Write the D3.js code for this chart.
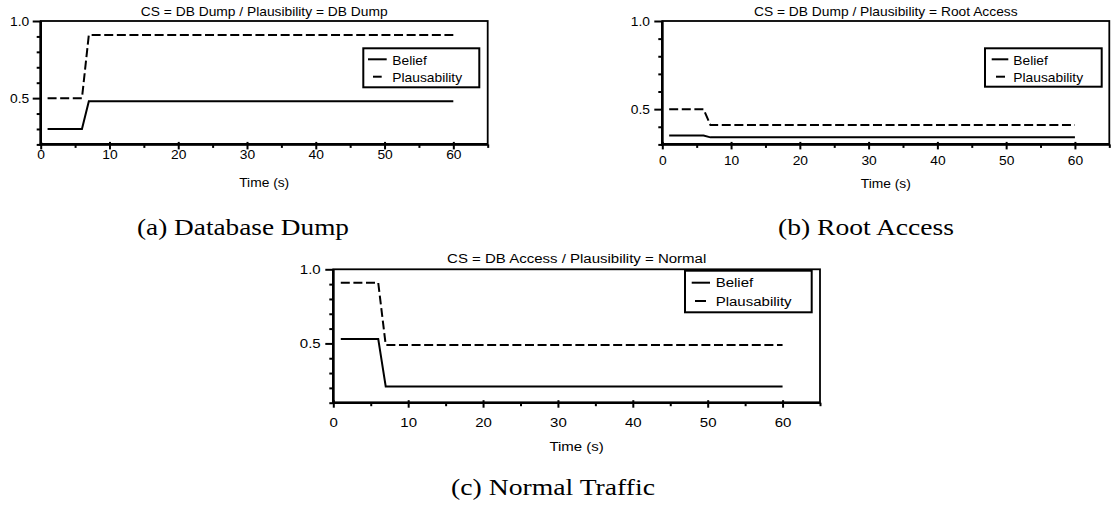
<!DOCTYPE html>
<html>
<head>
<meta charset="utf-8">
<script src="https://cdn.jsdelivr.net/npm/d3@7"></script>
<style>
  html, body { margin: 0; padding: 0; background: #fff; }
  svg { display: block; }
  .sans { font-family: "Liberation Sans", Arial, Helvetica, sans-serif; font-size: 12px; fill: #000; }
  .serif { font-family: "Liberation Serif", "Times New Roman", serif; font-size: 24px; fill: #000; }
</style>
</head>
<body>
<svg id="chart" width="1117" height="506"></svg>
<script>
// ---------------- DATA ----------------
const timeA = [1, 6, 7, 60];
const beliefA = [0.30, 0.30, 0.48, 0.48];
const plausA = [0.50, 0.50, 0.91, 0.91];

const timeB = [1, 6, 7, 60];
const beliefB = [0.35, 0.35, 0.34, 0.34];
const plausB = [0.50, 0.50, 0.41, 0.41];

const timeC = [1, 6, 7, 60];
const beliefC = [0.53, 0.53, 0.21, 0.21];
const plausC = [0.91, 0.91, 0.49, 0.49];

const titles = [
  "CS = DB Dump / Plausibility = DB Dump",
  "CS = DB Dump / Plausibility = Root Access",
  "CS = DB Access / Plausibility = Normal"
];
const captions = ["(a) Database Dump", "(b) Root Access", "(c) Normal Traffic"];
const seriesNames = ["Belief", "Plausability"];
const xLabel = "Time (s)";
const xMajorTicks = [0, 10, 20, 30, 40, 50, 60];
const xMinorTicks = [5, 15, 25, 35, 45, 55, 65];
const yMajorTicks = [0.5, 1.0];
const yMajorLabels = ["0.5", "1.0"];
const yMinorTicksA = [0.2, 0.3, 0.4, 0.6, 0.7, 0.8, 0.9];
const yMinorTicksB = [0.3, 0.4, 0.6, 0.7, 0.8, 0.9];
const yMinorTicksC = [0.1, 0.2, 0.3, 0.4, 0.6, 0.7, 0.8, 0.9];

// ---------------- LAYOUT ----------------
const panels = [
  { t: timeA, b: beliefA, p: plausA, title: titles[0], yDom: [0.2, 1.0], yMinor: yMinorTicksA,
    x0: 40.7, x1: 487.7, yTop: 21, yBot: 144.4, sx: 1.15,
    titleY: 16, tickLabY: 159, xLabY: 186.5, yLabRight: 29.3,
    leg: { x: 363.3, y: 48.3, w: 116, h: 39, s1: [368, 386.7], s1y: 59.3, s2: [373, 381.7], s2y: 76.7, tx: 392.3, t1y: 64.5, t2y: 81.5 } },
  { t: timeB, b: beliefB, p: plausB, title: titles[1], yDom: [0.3, 1.0], yMinor: yMinorTicksB,
    x0: 662.3, x1: 1109.3, yTop: 21, yBot: 144.4, sx: 1.15,
    titleY: 16, tickLabY: 165, xLabY: 187.5, yLabRight: 650,
    leg: { x: 985, y: 48.3, w: 116.7, h: 38.4, s1: [991.7, 1008.3], s1y: 59.3, s2: [996, 1005], s2y: 76.7, tx: 1013.3, t1y: 64.5, t2y: 81.5 } },
  { t: timeC, b: beliefC, p: plausC, title: titles[2], yDom: [0.1, 1.0], yMinor: yMinorTicksC,
    x0: 333.3, x1: 820, yTop: 269.3, yBot: 402.7, sx: 1.25,
    titleY: 263, tickLabY: 426.5, xLabY: 451, yLabRight: 320.7,
    leg: { x: 685, y: 270.7, w: 126.7, h: 41.6, s1: [691.7, 710], s1y: 282.7, s2: [695, 706], s2y: 301, tx: 715.7, t1y: 287.3, t2y: 306 } }
];
const captionPos = [
  { x: 243, y: 235, w: 212 },
  { x: 866, y: 235, w: 176 },
  { x: 553, y: 495, w: 204 }
];

const svg = d3.select("#chart");

function stretchedText(g, x, y, txt, anchor, sx) {
  return g.append("text").attr("class", "sans")
    .attr("transform", `translate(${x},${y}) scale(${sx},1)`)
    .attr("text-anchor", anchor).text(txt);
}

panels.forEach(P => {
  const g = svg.append("g");
  const x = d3.scaleLinear().domain([0, 65]).range([P.x0, P.x1]);
  const y = d3.scaleLinear().domain(P.yDom).range([P.yBot, P.yTop]);

  // Frame
  g.append("rect").attr("x", P.x0).attr("y", P.yTop)
    .attr("width", P.x1 - P.x0).attr("height", P.yBot - P.yTop)
    .attr("fill", "none").attr("stroke", "#000").attr("stroke-width", 1.8);

  // X axis (major crossing ticks + minor outward ticks)
  const xMaj = d3.axisBottom(x).tickValues(xMajorTicks).tickSize(5).tickSizeOuter(0).tickFormat(d3.format("d"));
  const xMin = d3.axisBottom(x).tickValues(xMinorTicks).tickSize(3.5).tickSizeOuter(0).tickFormat("");
  const gxm = g.append("g").attr("transform", `translate(0,${P.yBot})`).call(xMin);
  const gx = g.append("g").attr("transform", `translate(0,${P.yBot})`).call(xMaj);
  [gx, gxm].forEach(a => { a.select(".domain").remove(); a.selectAll("line").attr("stroke-width", 2); });
  gx.selectAll(".tick line").attr("y1", -2.5);
  gx.selectAll("text").attr("class", "sans").attr("y", 0).attr("dy", null)
    .attr("transform", `translate(0,${P.tickLabY - P.yBot}) scale(${P.sx},1)`);

  // Y axis (major + minor)
  const yMaj = d3.axisLeft(y).tickValues(yMajorTicks).tickSize(8).tickSizeOuter(0)
    .tickFormat((d, i) => yMajorLabels[i]);
  const yMin = d3.axisLeft(y).tickValues(P.yMinor).tickSize(4).tickSizeOuter(0).tickFormat("");
  const gym = g.append("g").attr("transform", `translate(${P.x0},0)`).call(yMin);
  const gy = g.append("g").attr("transform", `translate(${P.x0},0)`).call(yMaj);
  [gy, gym].forEach(a => { a.select(".domain").remove(); a.selectAll("line").attr("stroke-width", 2); });
  gy.selectAll("text").attr("class", "sans").attr("x", 0).attr("dy", null).attr("y", 0)
    .attr("transform", `translate(${P.yLabRight - P.x0},4.3) scale(${P.sx},1)`);

  // Heavy left & bottom axis lines
  g.append("line").attr("x1", P.x0).attr("x2", P.x0).attr("y1", P.yTop).attr("y2", P.yBot + 1)
    .attr("stroke", "#000").attr("stroke-width", 2.6);
  g.append("line").attr("x1", P.x0 - 1).attr("x2", P.x1).attr("y1", P.yBot).attr("y2", P.yBot)
    .attr("stroke", "#000").attr("stroke-width", 2.6);

  // Lines
  const lineGen = d3.line().x(d => x(d[0])).y(d => y(d[1]));
  g.append("path").datum(P.t.map((t, i) => [t, P.b[i]])).attr("d", lineGen)
    .attr("fill", "none").attr("stroke", "#000").attr("stroke-width", 2);
  g.append("path").datum(P.t.map((t, i) => [t, P.p[i]])).attr("d", lineGen)
    .attr("fill", "none").attr("stroke", "#000").attr("stroke-width", 2)
    .attr("stroke-dasharray", "9,3.6");

  // Title and x label
  stretchedText(g, (P.x0 + P.x1) / 2, P.titleY, P.title, "middle", P.sx);
  stretchedText(g, (P.x0 + P.x1) / 2, P.xLabY, xLabel, "middle", P.sx);

  // Legend
  const L = P.leg;
  g.append("rect").attr("x", L.x).attr("y", L.y).attr("width", L.w).attr("height", L.h)
    .attr("fill", "#fff").attr("stroke", "#000").attr("stroke-width", 2);
  g.append("line").attr("x1", L.s1[0]).attr("x2", L.s1[1]).attr("y1", L.s1y).attr("y2", L.s1y)
    .attr("stroke", "#000").attr("stroke-width", 2);
  g.append("line").attr("x1", L.s2[0]).attr("x2", L.s2[1]).attr("y1", L.s2y).attr("y2", L.s2y)
    .attr("stroke", "#000").attr("stroke-width", 2);
  stretchedText(g, L.tx, L.t1y, seriesNames[0], "start", P.sx);
  stretchedText(g, L.tx, L.t2y, seriesNames[1], "start", P.sx);
});

// Captions
captions.forEach((c, i) => {
  const C = captionPos[i];
  svg.append("text").attr("class", "serif")
    .attr("x", C.x - C.w / 2).attr("y", C.y)
    .attr("textLength", C.w).attr("lengthAdjust", "spacingAndGlyphs")
    .text(c);
});
</script>
</body>
</html>
